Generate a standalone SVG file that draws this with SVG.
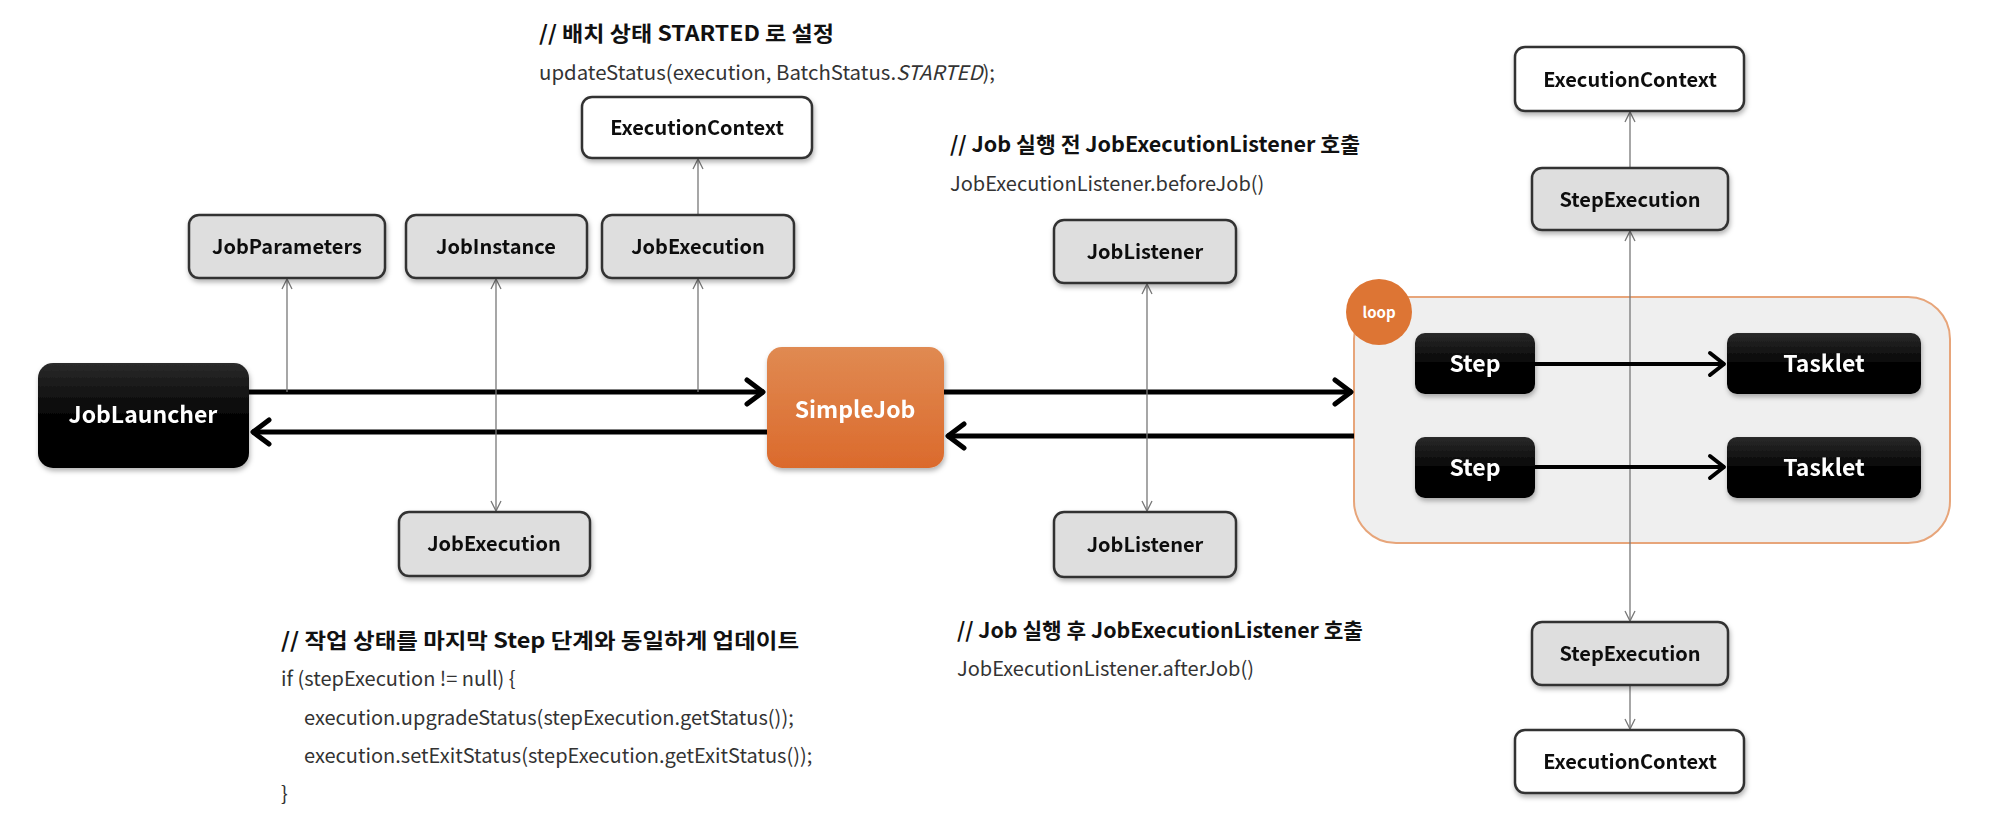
<svg xmlns="http://www.w3.org/2000/svg" width="2000" height="818" viewBox="0 0 2000 818">
<style>
text{font-family:"Noto Sans CJK KR","Noto Sans",sans-serif}
.lbl{font-size:20px;font-weight:bold;fill:#111;text-anchor:middle}
.wlbl{font-size:23px;font-weight:bold;fill:#fff;text-anchor:middle}
.gray{fill:#dedede;stroke:#333;stroke-width:2.5}
.white{fill:#fff;stroke:#333;stroke-width:2.5}
.blk{fill:url(#gBlk)}
.cmt{font-size:21px;font-weight:bold;fill:#111}
.code{font-size:20px;fill:#333}
.thin{stroke:#777;stroke-width:1.3;fill:none}
.thick{stroke:#000;stroke-width:5;fill:none}
.mid{stroke:#000;stroke-width:4;fill:none}
</style>
<defs>
<linearGradient id="gBlk" x1="0" y1="0" x2="0" y2="1">
<stop offset="0" stop-color="#2a2a2a"/><stop offset="0.5" stop-color="#050505"/><stop offset="1" stop-color="#000"/>
</linearGradient>
<linearGradient id="gOr" x1="0" y1="0" x2="0" y2="1">
<stop offset="0" stop-color="#e08a52"/><stop offset="1" stop-color="#db6a2c"/>
</linearGradient>
<filter id="sh" x="-10%" y="-10%" width="125%" height="130%">
<feDropShadow dx="1" dy="3" stdDeviation="2.5" flood-color="#000" flood-opacity="0.3"/>
</filter>
<marker id="ah" markerUnits="userSpaceOnUse" viewBox="0 0 12 12" markerWidth="12" markerHeight="12" refX="11" refY="6" orient="auto-start-reverse">
<path d="M1,1 L11,6 L1,11" fill="none" stroke="#777" stroke-width="1.3"/>
</marker>
<marker id="ahT" markerUnits="userSpaceOnUse" viewBox="0 0 24 30" markerWidth="24" markerHeight="30" refX="21" refY="15" orient="auto">
<path d="M4,3 L20,15 L4,27" fill="none" stroke="#000" stroke-width="5" stroke-linecap="round" stroke-linejoin="round"/>
</marker>
<marker id="ahM" markerUnits="userSpaceOnUse" viewBox="0 0 22 28" markerWidth="22" markerHeight="28" refX="19" refY="14" orient="auto">
<path d="M4,3 L18,14 L4,25" fill="none" stroke="#000" stroke-width="4" stroke-linecap="round" stroke-linejoin="round"/>
</marker>
</defs>
<rect width="2000" height="818" fill="#fff"/>

<g id="texts">
<text class="cmt" x="539" y="41" textLength="295" lengthAdjust="spacingAndGlyphs">// 배치 상태 STARTED 로 설정</text>
<text class="code" x="539" y="80" textLength="456" lengthAdjust="spacingAndGlyphs">updateStatus(execution, BatchStatus.<tspan font-style="italic">STARTED</tspan>);</text>
<text class="cmt" x="950" y="152" textLength="410" lengthAdjust="spacingAndGlyphs">// Job 실행 전 JobExecutionListener 호출</text>
<text class="code" x="950" y="191">JobExecutionListener.beforeJob()</text>
<text class="cmt" x="957" y="638" textLength="406" lengthAdjust="spacingAndGlyphs">// Job 실행 후 JobExecutionListener 호출</text>
<text class="code" x="957" y="676">JobExecutionListener.afterJob()</text>
<text class="cmt" x="281" y="648" textLength="518" lengthAdjust="spacingAndGlyphs">// 작업 상태를 마지막 Step 단계와 동일하게 업데이트</text>
<text class="code" x="281" y="686">if (stepExecution != null) {</text>
<text class="code" x="304" y="725">execution.upgradeStatus(stepExecution.getStatus());</text>
<text class="code" x="304" y="763">execution.setExitStatus(stepExecution.getExitStatus());</text>
<text class="code" x="281" y="801">}</text>
</g>

<g id="loop">
<rect x="1354" y="297" width="596" height="246" rx="42" fill="#efefef" stroke="#e7a57a" stroke-width="2"/>
<circle cx="1379" cy="312" r="33" fill="#dd7534"/>
<text x="1379" y="318" font-size="15" font-weight="bold" fill="#fff" text-anchor="middle">loop</text>
</g>

<g id="connectors">
<line class="thick" x1="249" y1="392" x2="764" y2="392" marker-end="url(#ahT)"/>
<line class="thick" x1="767" y1="432" x2="252" y2="432" marker-end="url(#ahT)"/>
<line class="thin" x1="287" y1="392" x2="287" y2="279" marker-end="url(#ah)"/>
<line class="thin" x1="496" y1="392" x2="496" y2="279" marker-end="url(#ah)"/>
<line class="thin" x1="496" y1="392" x2="496" y2="511" marker-end="url(#ah)"/>
<line class="thin" x1="698" y1="392" x2="698" y2="279" marker-end="url(#ah)"/>
<line class="thin" x1="698" y1="215" x2="698" y2="159" marker-end="url(#ah)"/>
<line class="thick" x1="944" y1="392" x2="1352" y2="392" marker-end="url(#ahT)"/>
<line class="thick" x1="1354" y1="436" x2="947" y2="436" marker-end="url(#ahT)"/>
<line class="thin" x1="1147" y1="392" x2="1147" y2="284" marker-end="url(#ah)"/>
<line class="thin" x1="1147" y1="392" x2="1147" y2="511" marker-end="url(#ah)"/>
<line class="thin" x1="1630" y1="365" x2="1630" y2="231" marker-end="url(#ah)"/>
<line class="thin" x1="1630" y1="365" x2="1630" y2="621" marker-end="url(#ah)"/>
<line class="thin" x1="1630" y1="167" x2="1630" y2="112" marker-end="url(#ah)"/>
<line class="thin" x1="1630" y1="686" x2="1630" y2="729" marker-end="url(#ah)"/>
<line class="mid" x1="1535" y1="364" x2="1725" y2="364" marker-end="url(#ahM)"/>
<line class="mid" x1="1535" y1="467" x2="1725" y2="467" marker-end="url(#ahM)"/>
</g>

<g id="execCtxTop" filter="url(#sh)"><rect class="white" x="582" y="97" width="230" height="61" rx="10"/><text class="lbl" x="697" y="135">ExecutionContext</text></g>
<g id="jobParameters" filter="url(#sh)"><rect class="gray" x="189" y="215" width="196" height="63" rx="10"/><text class="lbl" x="287" y="254">JobParameters</text></g>
<g id="jobInstance" filter="url(#sh)"><rect class="gray" x="406" y="215" width="181" height="63" rx="10"/><text class="lbl" x="496" y="254">JobInstance</text></g>
<g id="jobExecutionTop" filter="url(#sh)"><rect class="gray" x="602" y="215" width="192" height="63" rx="10"/><text class="lbl" x="698" y="254">JobExecution</text></g>
<g id="jobLauncher" filter="url(#sh)"><rect class="blk" x="38" y="363" width="211" height="105" rx="15"/><text class="wlbl" x="143" y="423">JobLauncher</text></g>
<g id="jobExecutionBottom" filter="url(#sh)"><rect class="gray" x="399" y="512" width="191" height="64" rx="10"/><text class="lbl" x="494" y="551">JobExecution</text></g>
<g id="simpleJob" filter="url(#sh)"><rect x="767" y="347" width="177" height="121" rx="15" fill="url(#gOr)"/><text class="wlbl" x="855" y="418" fill="#fff5ea">SimpleJob</text></g>
<g id="jobListenerTop" filter="url(#sh)"><rect class="gray" x="1054" y="220" width="182" height="63" rx="10"/><text class="lbl" x="1145" y="259">JobListener</text></g>
<g id="jobListenerBottom" filter="url(#sh)"><rect class="gray" x="1054" y="512" width="182" height="65" rx="10"/><text class="lbl" x="1145" y="552">JobListener</text></g>
<g id="step1" filter="url(#sh)"><rect class="blk" x="1415" y="333" width="120" height="61" rx="10"/><text class="wlbl" x="1475" y="372">Step</text></g>
<g id="tasklet1" filter="url(#sh)"><rect class="blk" x="1727" y="333" width="194" height="61" rx="10"/><text class="wlbl" x="1824" y="372">Tasklet</text></g>
<g id="step2" filter="url(#sh)"><rect class="blk" x="1415" y="437" width="120" height="61" rx="10"/><text class="wlbl" x="1475" y="476">Step</text></g>
<g id="tasklet2" filter="url(#sh)"><rect class="blk" x="1727" y="437" width="194" height="61" rx="10"/><text class="wlbl" x="1824" y="476">Tasklet</text></g>
<g id="execCtxTR" filter="url(#sh)"><rect class="white" x="1515" y="47" width="229" height="64" rx="10"/><text class="lbl" x="1630" y="87">ExecutionContext</text></g>
<g id="stepExecTop" filter="url(#sh)"><rect class="gray" x="1532" y="168" width="196" height="62" rx="10"/><text class="lbl" x="1630" y="207">StepExecution</text></g>
<g id="stepExecBottom" filter="url(#sh)"><rect class="gray" x="1532" y="622" width="196" height="63" rx="10"/><text class="lbl" x="1630" y="661">StepExecution</text></g>
<g id="execCtxBottom" filter="url(#sh)"><rect class="white" x="1515" y="730" width="229" height="63" rx="10"/><text class="lbl" x="1630" y="769">ExecutionContext</text></g>
</svg>
